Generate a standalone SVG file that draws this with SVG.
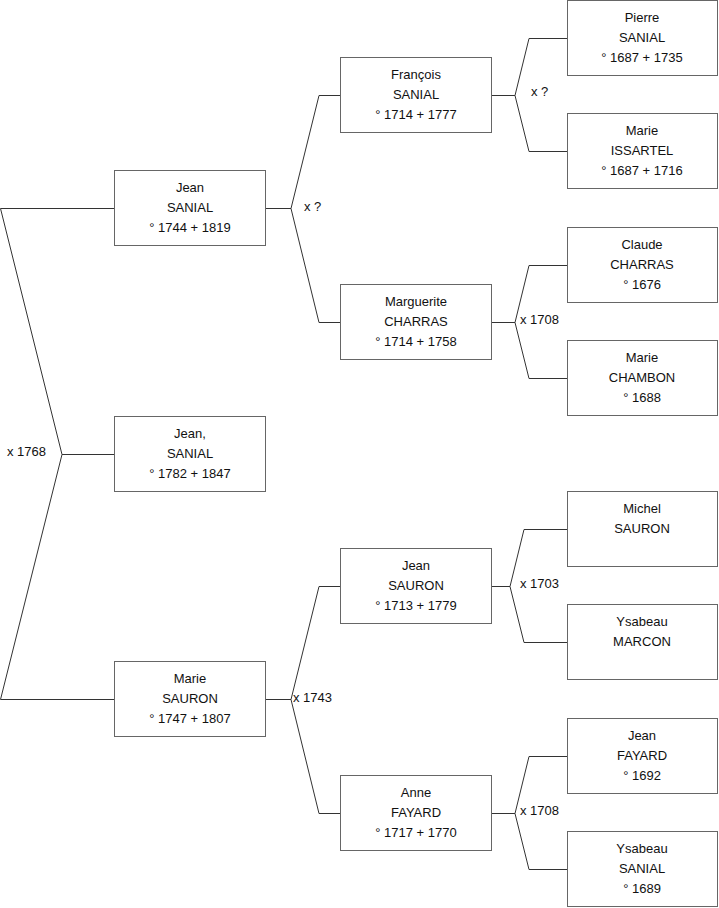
<svg xmlns="http://www.w3.org/2000/svg" width="719" height="908" viewBox="0 0 719 908">
<style>
.box{fill:#fff;stroke:#666;stroke-width:1}
.t{font-family:"Liberation Sans",Arial,sans-serif;font-size:13px;fill:#111;text-anchor:middle}
.l{font-family:"Liberation Sans",Arial,sans-serif;font-size:13px;fill:#111}
.c{fill:none;stroke:#333;stroke-width:1}
</style>
<rect width="719" height="908" fill="#fff"/>
<g id="connectors">
<path class="c" d="M114.5,208.5 H0.5 L62,454.5 L0.5,699.5 H114.5 M62,454.5 H114.5"/>
<path class="c" d="M265.5,208.5 H291 M340.5,95.5 H319 L291,208.5 L319,322.5 H340.5"/>
<path class="c" d="M265.5,699.5 H291 M340.5,586.5 H319 L291,699.5 L319,813.5 H340.5"/>
<path class="c" d="M491.5,95.5 H515 M567.5,38.5 H529 L515,95.5 L529,151.5 H567.5"/>
<path class="c" d="M491.5,322.5 H515 M567.5,265.5 H529 L515,322.5 L529,378.5 H567.5"/>
<path class="c" d="M491.5,586.5 H510 M567.5,529.5 H524 L510,586.5 L524,642.5 H567.5"/>
<path class="c" d="M491.5,813.5 H515 M567.5,756.5 H529 L515,813.5 L529,869.5 H567.5"/>
<text class="l" x="7" y="456">x 1768</text>
<text class="l" x="304" y="211">x ?</text>
<text class="l" x="293" y="702">x 1743</text>
<text class="l" x="531" y="96">x ?</text>
<text class="l" x="520" y="324">x 1708</text>
<text class="l" x="520" y="588">x 1703</text>
<text class="l" x="520" y="815">x 1708</text>
</g>
<g id="jean-sanial"><rect class="box" x="114.5" y="170.5" width="151" height="75"/><text class="t" x="190" y="192">Jean</text><text class="t" x="190" y="212">SANIAL</text><text class="t" x="190" y="232">° 1744 + 1819</text></g>
<g id="jean-sanial-child"><rect class="box" x="114.5" y="416.5" width="151" height="75"/><text class="t" x="190" y="438">Jean,</text><text class="t" x="190" y="458">SANIAL</text><text class="t" x="190" y="478">° 1782 + 1847</text></g>
<g id="marie-sauron"><rect class="box" x="114.5" y="661.5" width="151" height="75"/><text class="t" x="190" y="683">Marie</text><text class="t" x="190" y="703">SAURON</text><text class="t" x="190" y="723">° 1747 + 1807</text></g>
<g id="francois-sanial"><rect class="box" x="340.5" y="57.5" width="151" height="75"/><text class="t" x="416" y="79">François</text><text class="t" x="416" y="99">SANIAL</text><text class="t" x="416" y="119">° 1714 + 1777</text></g>
<g id="marguerite-charras"><rect class="box" x="340.5" y="284.5" width="151" height="75"/><text class="t" x="416" y="306">Marguerite</text><text class="t" x="416" y="326">CHARRAS</text><text class="t" x="416" y="346">° 1714 + 1758</text></g>
<g id="jean-sauron"><rect class="box" x="340.5" y="548.5" width="151" height="75"/><text class="t" x="416" y="570">Jean</text><text class="t" x="416" y="590">SAURON</text><text class="t" x="416" y="610">° 1713 + 1779</text></g>
<g id="anne-fayard"><rect class="box" x="340.5" y="775.5" width="151" height="75"/><text class="t" x="416" y="797">Anne</text><text class="t" x="416" y="817">FAYARD</text><text class="t" x="416" y="837">° 1717 + 1770</text></g>
<g id="pierre-sanial"><rect class="box" x="567.5" y="0.5" width="150" height="75"/><text class="t" x="642" y="22">Pierre</text><text class="t" x="642" y="42">SANIAL</text><text class="t" x="642" y="62">° 1687 + 1735</text></g>
<g id="marie-issartel"><rect class="box" x="567.5" y="113.5" width="150" height="75"/><text class="t" x="642" y="135">Marie</text><text class="t" x="642" y="155">ISSARTEL</text><text class="t" x="642" y="175">° 1687 + 1716</text></g>
<g id="claude-charras"><rect class="box" x="567.5" y="227.5" width="150" height="75"/><text class="t" x="642" y="249">Claude</text><text class="t" x="642" y="269">CHARRAS</text><text class="t" x="642" y="289">° 1676</text></g>
<g id="marie-chambon"><rect class="box" x="567.5" y="340.5" width="150" height="75"/><text class="t" x="642" y="362">Marie</text><text class="t" x="642" y="382">CHAMBON</text><text class="t" x="642" y="402">° 1688</text></g>
<g id="michel-sauron"><rect class="box" x="567.5" y="491.5" width="150" height="75"/><text class="t" x="642" y="513">Michel</text><text class="t" x="642" y="533">SAURON</text></g>
<g id="ysabeau-marcon"><rect class="box" x="567.5" y="604.5" width="150" height="75"/><text class="t" x="642" y="626">Ysabeau</text><text class="t" x="642" y="646">MARCON</text></g>
<g id="jean-fayard"><rect class="box" x="567.5" y="718.5" width="150" height="75"/><text class="t" x="642" y="740">Jean</text><text class="t" x="642" y="760">FAYARD</text><text class="t" x="642" y="780">° 1692</text></g>
<g id="ysabeau-sanial"><rect class="box" x="567.5" y="831.5" width="150" height="75"/><text class="t" x="642" y="853">Ysabeau</text><text class="t" x="642" y="873">SANIAL</text><text class="t" x="642" y="893">° 1689</text></g>
</svg>
